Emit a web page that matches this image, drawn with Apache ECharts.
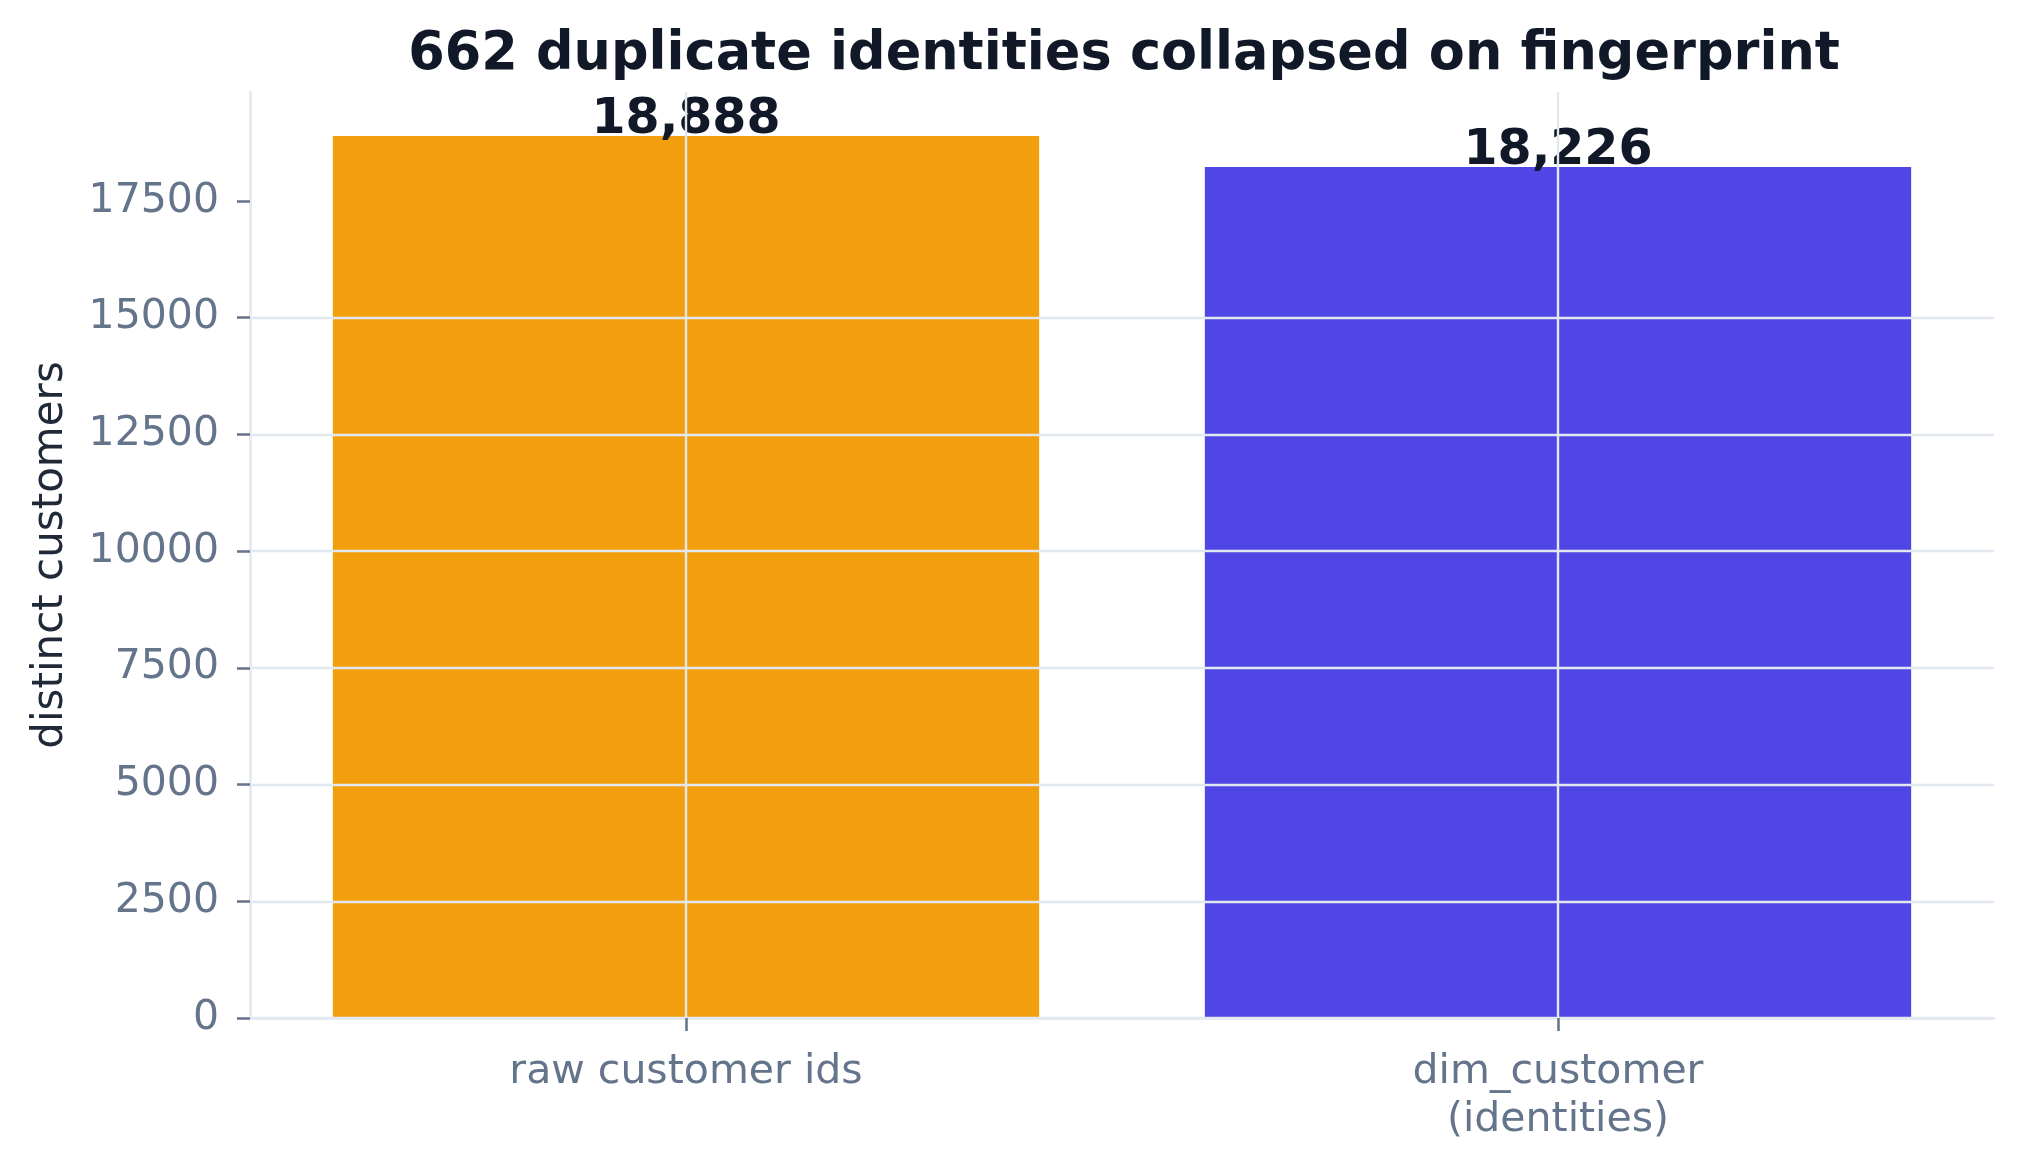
<!DOCTYPE html>
<html lang="en">
<head>
    <meta charset="UTF-8">
    <title>Duplicate identities</title>
    <script src="https://cdn.jsdelivr.net/npm/echarts@6/dist/echarts.min.js"></script>
</head>
<style type="text/css">
    html,body,#chart{
        width: 100%;
        height: 100%;
        margin: 0;
        padding: 0;
        background: #fff;
    }
</style>
<body>
<div id="chart"></div>
<script>
    // data
    var categories = ['raw customer ids', 'dim_customer\n(identities)'];
    var customers = [18888, 18226];
    var barColors = ['#f39e0c', '#4f46e5'];
    var yTicks = [0, 2500, 5000, 7500, 10000, 12500, 15000, 17500];

    var font = 'DejaVu Sans';
    var yMax = Math.max.apply(null, customers) * 1.05;

    var myChart = echarts.init(document.getElementById('chart'));
    var options = {
        backgroundColor: '#ffffff',
        animation: false,
        title: {
            text: '662 duplicate identities collapsed on fingerprint',
            left: 1119,
            top: 24,
            textAlign: 'center',
            textStyle: {
                fontFamily: font,
                fontSize: 52.5,
                fontWeight: 'bold',
                color: '#111827'
            }
        },
        grid: {
            left: 250,
            right: 30,
            top: 92,
            bottom: 150
        },
        xAxis: {
            type: 'category',
            data: categories,
            z: 3,
            axisLine: {
                lineStyle: { color: '#e2e8f0', width: 2.5 }
            },
            axisTick: {
                show: true,
                alignWithLabel: true,
                length: 13,
                lineStyle: { color: '#64748b', width: 2.5 }
            },
            axisLabel: {
                fontFamily: font,
                fontSize: 41,
                lineHeight: 48,
                color: '#64748b',
                margin: 30
            },
            splitLine: {
                show: true,
                alignWithLabel: true,
                lineStyle: { color: '#e2e8f0', width: 2.4 }
            }
        },
        yAxis: {
            type: 'value',
            min: 0,
            max: yMax,
            interval: 2500,
            z: 3,
            name: 'distinct customers',
            nameLocation: 'middle',
            nameRotate: 90,
            nameGap: 178,
            nameTextStyle: {
                fontFamily: font,
                fontSize: 42,
                color: '#1f2937'
            },
            axisLine: {
                show: true,
                lineStyle: { color: '#e2e8f0', width: 2.5 }
            },
            axisTick: {
                show: true,
                length: 13,
                customValues: yTicks,
                lineStyle: { color: '#64748b', width: 2.5 }
            },
            axisLabel: {
                customValues: yTicks,
                fontFamily: font,
                fontSize: 41,
                color: '#64748b',
                margin: 31,
                formatter: function (v) { return String(v); }
            },
            splitLine: {
                show: true,
                showMaxLine: false,
                lineStyle: { color: '#e2e8f0', width: 2.4 }
            }
        },
        series: [{
            type: 'bar',
            barWidth: '81%',
            z: 2,
            data: customers.map(function (v, i) {
                return { value: v, itemStyle: { color: barColors[i] } };
            }),
            label: {
                show: true,
                position: 'top',
                distance: -9,
                fontFamily: font,
                fontSize: 49,
                fontWeight: 'bold',
                color: '#111827',
                formatter: function (p) { return p.value.toLocaleString('en-US'); }
            }
        }]
    };
    myChart.setOption(options);
</script>
</body>
</html>
